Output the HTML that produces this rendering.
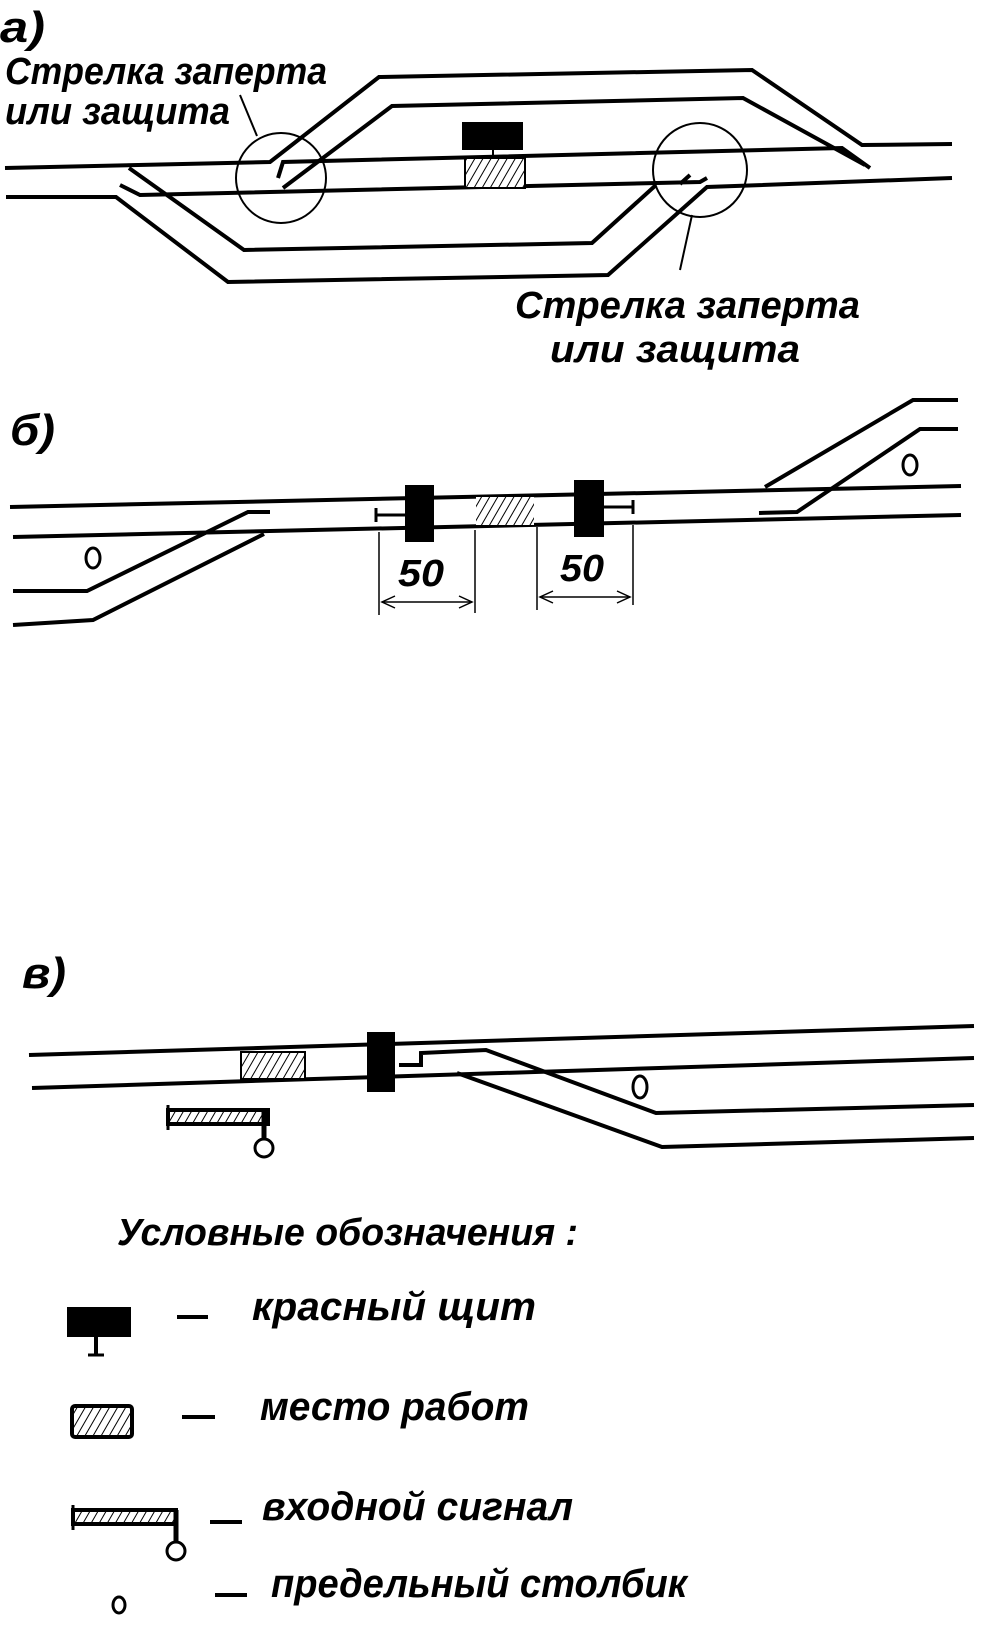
<!DOCTYPE html>
<html><head><meta charset="utf-8"><style>
html,body{margin:0;padding:0;background:#fff;}
svg{display:block}
text{font-family:"Liberation Sans",sans-serif;font-style:italic;font-weight:bold;fill:#000}
</style></head><body>
<svg width="998" height="1635" viewBox="0 0 998 1635" xmlns="http://www.w3.org/2000/svg">
<defs>
<pattern id="h" width="7" height="7" patternUnits="userSpaceOnUse" patternTransform="rotate(30)">
<rect width="7" height="7" fill="#fff"/><line x1="0" y1="0" x2="0" y2="7" stroke="#000" stroke-width="2"/></pattern>
</defs>
<g fill="none" stroke="#000" stroke-width="4" stroke-linejoin="miter">
<!-- a) -->
<polyline points="5,168 270,162 379,77 752,70 862,145 952,144"/>
<polyline points="278,178 283,162 842,148 870,168"/>
<polyline points="283,188 392,106 743,98 865,165"/>
<polyline points="6,197 116,197 228,282 608,275 707,187 952,178"/>
<polyline points="129,168 244,250 592,243 656,185"/>
<polyline points="120,185 140,195 700,182 707,178"/>
<polyline points="680,184 690,175"/>
<ellipse cx="281" cy="178" rx="45" ry="45" stroke-width="2"/>
<ellipse cx="700" cy="170" rx="47" ry="47" stroke-width="2"/>
<line x1="240" y1="95" x2="257" y2="136" stroke-width="2"/>
<line x1="692" y1="215" x2="680" y2="270" stroke-width="2"/>
<line x1="493" y1="150" x2="493" y2="158" stroke-width="2"/>
<!-- b) -->
<polyline points="10,507 961,486"/>
<polyline points="13,537 961,515"/>
<polyline points="13,591 87,591 248,512 270,512"/>
<polyline points="13,625 93,620 264,534"/>
<polyline points="765,487 913,400 958,400"/>
<polyline points="759,513 797,512 920,429 958,429"/>
<line x1="376" y1="515" x2="405" y2="515" stroke-width="3"/>
<line x1="376" y1="508" x2="376" y2="522" stroke-width="3"/>
<line x1="604" y1="507" x2="633" y2="507" stroke-width="3"/>
<line x1="633" y1="500" x2="633" y2="514" stroke-width="3"/>
<g stroke-width="1.5">
<line x1="379" y1="532" x2="379" y2="615"/><line x1="475" y1="530" x2="475" y2="613"/>
<line x1="537" y1="527" x2="537" y2="610"/><line x1="633" y1="525" x2="633" y2="605"/>
<line x1="382" y1="602" x2="472" y2="602"/><line x1="540" y1="597" x2="630" y2="597"/>
<polyline points="395,596 382,602 395,608"/><polyline points="459,596 472,602 459,608"/>
<polyline points="553,591 540,597 553,603"/><polyline points="617,591 630,597 617,603"/>
</g>
<ellipse cx="93" cy="558" rx="7" ry="10" stroke-width="3"/>
<ellipse cx="910" cy="465" rx="7" ry="10" stroke-width="3"/>
<!-- c) -->
<polyline points="29,1055 974,1026"/>
<polyline points="32,1088 974,1058"/>
<polyline points="399,1065 421,1065 421,1053 486,1050 656,1113 974,1105"/>
<polyline points="457,1073 662,1147 974,1138"/>
<ellipse cx="640" cy="1087" rx="7" ry="11" stroke-width="3"/>
<!-- legend -->
<line x1="96" y1="1336" x2="96" y2="1355" stroke-width="4"/>
<line x1="88" y1="1355" x2="104" y2="1355" stroke-width="3"/>
<line x1="177" y1="1317" x2="208" y2="1317"/>
<line x1="182" y1="1417" x2="215" y2="1417"/>
<line x1="210" y1="1522" x2="242" y2="1522"/>
<line x1="215" y1="1595" x2="247" y2="1595"/>
<ellipse cx="119" cy="1605" rx="6" ry="8" stroke-width="3"/>
</g>
<rect x="462" y="122" width="61" height="28" fill="#000"/>
<rect x="465" y="158" width="60" height="30" fill="url(#h)" stroke="#000" stroke-width="2"/>
<rect x="405" y="485" width="29" height="57" fill="#000"/>
<rect x="574" y="480" width="30" height="57" fill="#000"/>
<rect x="476" y="497" width="58" height="28" fill="url(#h)" stroke="none"/>
<rect x="241" y="1052" width="64" height="27" fill="url(#h)" stroke="#000" stroke-width="2"/>
<rect x="367" y="1032" width="28" height="60" fill="#000"/>
<g stroke="#000" fill="none">
<rect x="168" y="1110" width="100" height="14" fill="url(#h)" stroke-width="4"/>
<line x1="168" y1="1105" x2="168" y2="1130" stroke-width="3"/>
<line x1="264" y1="1110" x2="264" y2="1140" stroke-width="5"/>
<circle cx="264" cy="1148" r="9" stroke-width="3"/>
<rect x="73" y="1510" width="103" height="14" fill="url(#h)" stroke-width="4"/>
<line x1="73" y1="1505" x2="73" y2="1530" stroke-width="3"/>
<line x1="176" y1="1510" x2="176" y2="1543" stroke-width="5"/>
<circle cx="176" cy="1551" r="9" stroke-width="3"/>
</g>
<rect x="67" y="1307" width="64" height="30" fill="#000"/>
<rect x="72" y="1406" width="60" height="31" rx="3" fill="url(#h)" stroke="#000" stroke-width="4"/>
<text x="0" y="42" font-size="44" textLength="45" lengthAdjust="spacingAndGlyphs">а)</text>
<text x="5" y="84" font-size="38" textLength="322" lengthAdjust="spacingAndGlyphs">Стрелка заперта</text>
<text x="5" y="124" font-size="38" textLength="225" lengthAdjust="spacingAndGlyphs">или защита</text>
<text x="515" y="318" font-size="38" textLength="345" lengthAdjust="spacingAndGlyphs">Стрелка заперта</text>
<text x="550" y="362" font-size="38" textLength="250" lengthAdjust="spacingAndGlyphs">или защита</text>
<text x="10" y="445" font-size="44" textLength="45" lengthAdjust="spacingAndGlyphs">б)</text>
<text x="398" y="586" font-size="38" textLength="46" lengthAdjust="spacingAndGlyphs">50</text>
<text x="560" y="581" font-size="38" textLength="44" lengthAdjust="spacingAndGlyphs">50</text>
<text x="22" y="988" font-size="44" textLength="44" lengthAdjust="spacingAndGlyphs">в)</text>
<text x="117" y="1245" font-size="38" textLength="461" lengthAdjust="spacingAndGlyphs">Условные обозначения :</text>
<text x="252" y="1320" font-size="40" textLength="284" lengthAdjust="spacingAndGlyphs">красный щит</text>
<text x="260" y="1420" font-size="40" textLength="269" lengthAdjust="spacingAndGlyphs">место работ</text>
<text x="262" y="1520" font-size="40" textLength="311" lengthAdjust="spacingAndGlyphs">входной сигнал</text>
<text x="271" y="1597" font-size="40" textLength="416" lengthAdjust="spacingAndGlyphs">предельный столбик</text>
</svg>
</body></html>
